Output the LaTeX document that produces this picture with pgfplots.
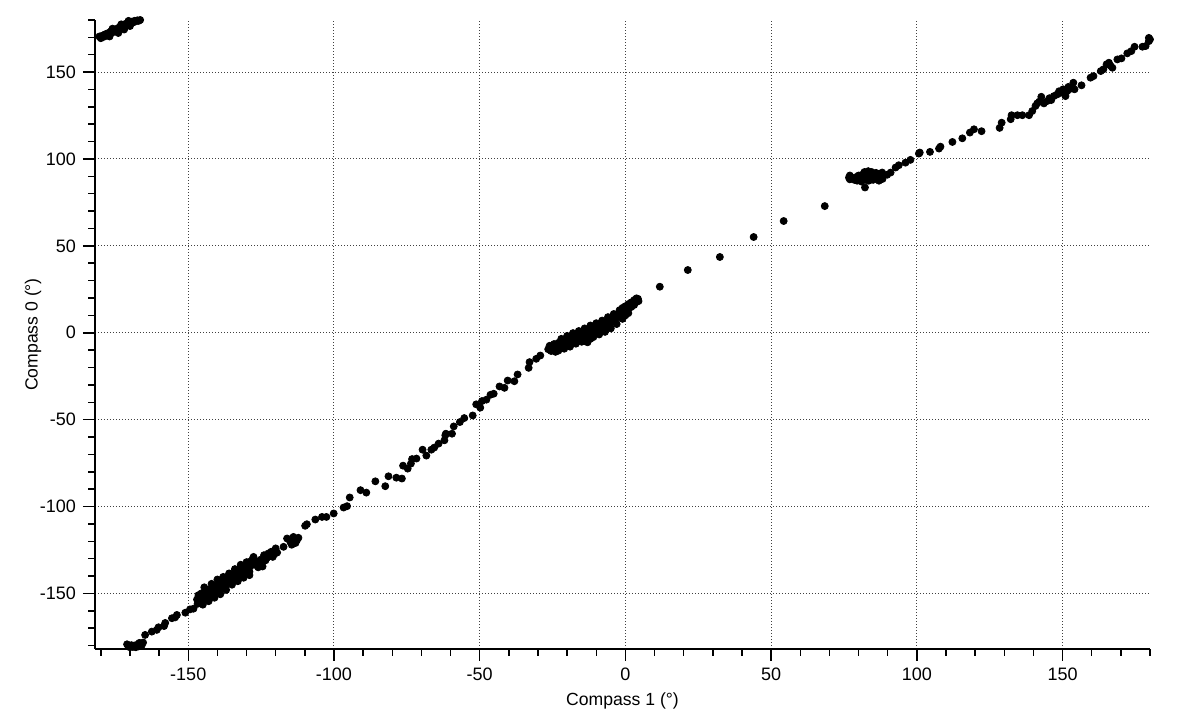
\documentclass[border=0pt]{standalone}
\usepackage{fontspec}
\setmainfont{Liberation Sans}
\usepackage{pgfplots}
\pgfplotsset{compat=1.18}
\begin{document}
\begin{tikzpicture}
\begin{axis}[
  scale only axis,
  width=527.5pt, height=314.5pt,
  xmin=-182, xmax=180, ymin=-182, ymax=180,
  axis lines*=left,
  axis line style={line width=0.75pt, black},
  xtick={-150,-100,...,150}, ytick={-150,-100,...,150},
  minor xtick={-180,-170,...,180}, minor ytick={-180,-170,...,180},
  tick align=outside,
  major tick length=6pt, minor tick length=3.3pt,
  tick style={line width=0.75pt, black},
  grid=major,
  major grid style={black!75, line width=0.5pt, dash pattern=on 0.5pt off 1pt},
  tick label style={font=\fontsize{9}{10}\selectfont},
  label style={font=\fontsize{8.8}{10}\selectfont},
  /pgf/number format/assume math mode=true,
  xlabel={Compass 1 (°)}, ylabel={Compass 0 (°)},
  xlabel style={at={(axis description cs:0.5,-0.082)}, anchor=center},
  ylabel style={at={(axis description cs:-0.0588,0.5)}, anchor=center},
  clip=false,
]
\coordinate (bl) at (rel axis cs:0,0);
\coordinate (tr) at (rel axis cs:1,1);
\addplot[only marks, mark=*, mark size=1.75pt, black] coordinates {
(-180.5,170.5)(-180,169.5)(-179.5,171)(-179,170.3)(-178.5,171.8)(-178,171)(-177.5,172.5)(-177,172)(-176.5,173.5)(-176,172.8)(-175.5,174.5)(-175,173.7)(-174.5,175)(-174,174.2)(-173.5,176)(-173,175.5)(-172.5,177)(-172,176)(-171.5,177.8)(-171,176.8)(-170.5,178.5)(-170,178)(-169.5,179)(-169,178.5)(-168.5,179.5)(-168,179.2)(-167.5,179.8)(-167,179.5)(-166.5,180)
(-177,170.5)(-174,172.5)(-172,174.5)(-170,176.5)(-176,175)(-173,177.5)(-170.5,179.5)
(-171,-179.3)(-170.5,-180.5)(-170,-181)(-169.5,-179.8)(-169,-180.8)(-168.5,-180)(-168,-181)(-167.5,-179.5)(-167,-180.5)(-166.5,-178.8)(-166,-180)(-165.5,-178.3)(-166.8,-178.5)
(-164.8,-173.9)(-162.5,-172)(-160.8,-171)(-160.2,-169.5)(-158.3,-168.8)(-157.9,-167)(-155.6,-164.3)(-154.5,-163.8)(-153.9,-162.4)(-151,-161.1)(-149.4,-159.2)(-148.2,-158.8)
(-147,-153.5)(-146.5,-151)(-146.3,-155)(-146,-152.5)(-145.5,-150)(-145.2,-154)(-145,-151.8)(-144.5,-153)(-144.3,-149.5)(-144,-151)(-143.5,-148)(-143.2,-152.5)(-143,-150)(-142.5,-147.5)(-142.3,-151.5)(-142,-149)(-141.5,-146.5)(-141.3,-150.3)(-141,-148)(-140.5,-145.5)(-140.2,-149)(-140,-147)(-139.5,-144.5)(-139.2,-148)(-139,-142.7)(-138.7,-146)(-138.3,-144)(-138,-146.8)
(-146.8,-156)(-145,-156.5)(-143,-154.5)(-141,-152.5)(-139,-150.5)(-137,-148)(-144.5,-146.5)(-142,-144.5)(-140,-142)(-138,-140.5)(-136,-138.5)
(-137.5,-143)(-137.2,-145.5)(-137,-141.5)(-136.5,-144)(-136.2,-140.5)(-136,-142.5)(-135.5,-139.5)(-135.2,-143)(-135,-141)(-134.5,-138.5)(-134.2,-141.8)(-134,-140)(-133.5,-137.5)(-133.2,-140.5)(-133,-139)(-132.5,-136.5)(-132.2,-139.5)(-132,-135.5)(-131.5,-138)(-131,-136.5)(-130.7,-139)(-130.5,-134.5)(-130,-137)(-129.5,-135.5)(-129.2,-132)(-129,-137.5)(-128.7,-134.5)
(-135,-145)(-133,-143)(-131,-141)(-129,-139.5)(-134,-136)(-132,-133.5)(-130,-132)(-128,-130.5)
(-127.6,-129)(-127.2,-133.5)(-126.4,-131.5)(-126,-135)(-125.5,-133)(-125,-130.5)(-124.5,-134.5)(-124,-128)(-123.5,-131)(-123,-129.5)(-122.5,-127)(-122,-128.5)(-121.5,-126)(-121,-129)(-120.5,-127.5)(-120,-124.1)(-119.5,-126.5)
(-117.3,-123.2)(-116.1,-118.4)(-115,-120.3)(-114.5,-122)(-113.9,-117.5)(-113.2,-121)(-112.7,-119.4)(-112.2,-118)(-109.9,-111.1)(-109.3,-110.2)
(-106.4,-107.5)(-104.1,-106)(-102.6,-106)(-100.1,-104)(-96.7,-100.6)(-95.5,-99.8)(-94.6,-94.8)(-90.9,-90.6)(-88.9,-92)(-85.8,-85.5)(-82.4,-88.3)(-81.3,-82.6)(-78.6,-83.4)(-76.7,-83.9)(-76.3,-76.5)(-74.7,-78.2)(-73.6,-75.3)(-73.2,-72.7)(-71.7,-72.4)(-69.6,-67.3)(-68.3,-70.7)(-66.6,-67.3)(-65.6,-66.1)(-64.1,-63.8)(-62.1,-61.9)(-61.8,-59)(-61.6,-58.1)(-59.5,-58.1)(-58.9,-53.9)(-56.8,-51.4)(-55.3,-49.1)(-52.4,-47.6)(-51.2,-41.2)(-49.8,-43.1)(-49.2,-39.3)(-47.7,-38.5)(-46.3,-35.7)(-45.2,-35.1)(-43.2,-30.9)(-41.5,-31.7)(-40.4,-27.5)(-38.1,-27.9)(-37,-24)
(-33.2,-20.2)(-32.9,-16.9)(-30.6,-15)(-29.2,-13.1)
(-26.5,-9.5)(-26,-7.5)(-25.5,-10.5)(-25,-8)(-24.5,-6.5)(-24,-9.8)(-23.5,-7.5)(-23,-5.8)(-22.5,-8.8)(-22,-6.5)(-21.5,-4.5)(-21,-7.5)(-20.5,-5.5)(-20,-3.8)(-19.5,-6.5)(-19,-4.2)(-18.5,-2.5)(-18,-5.2)(-17.5,-3)(-17,-1.5)(-16.5,-4)(-16,-2)(-15.5,-0.5)(-15,-3)(-14.5,-1)(-14,0.5)(-13.5,-3.5)(-13,-2.2)(-12.8,-4)(-12.5,0.5)(-12,2)(-11.5,-0.8)(-11,1.5)(-10.5,3)(-10,0.5)(-9.5,2.5)(-9,4)(-8.5,1.8)(-8,3.5)(-7.5,5)(-7,3)(-6.5,4.8)(-6,6.5)(-5.5,4.5)(-5,6)(-4.5,8)(-4,6.5)(-3.5,9.5)(-3,8.5)(-2.5,11)(-2,9.8)(-1.5,12.5)(-1,11)(-0.5,13.5)(0,12.5)(0.5,14.5)(1,13.5)(1.5,15.5)(2,14.8)(2.5,16.5)(3,16)(3.5,17.5)(4,18.5)(4.3,19.5)(4.5,18.2)(3.8,19.8)
(-24,-11)(-23,-10.3)(-21,-9.2)(-19,-8)(-17,-6.3)(-15,-5.2)(-14,-4.8)(-13,-5.5)(-12,-3.5)(-11,-2.5)(-9,-1)(-7,0.5)(-5,2.5)(-3,5)(-1,8)(0,10)(1,11.3)
(-22,-3.5)(-20,-1.8)(-18,-0.2)(-16,1)(-14,2.5)(-12,4.2)(-10,5.5)(-8,7)(-6,9)(-4,10.8)(-2,13)(-1,14.3)(0,15.3)(1,16.5)(2,17.5)(3,18.8)
(11.8,26.5)(21.4,36.1)(32.4,43.6)(44,55.1)(54.3,64.3)(68.4,72.9)
(76.7,89.3)(77,90.5)(77,88.3)(78.5,88)(79,89.5)(79.5,87.5)(80,90.5)(80.5,88.5)(81,87)(81.3,91)(81.5,89)(82,92.5)(82.2,83.6)(82.5,88)(83,90)(83.3,93)(83.5,87.5)(84,91)(84.3,89)(84.5,92.5)(85,88)(85.5,90.5)(86,92)(86.5,89)(87,87.5)(87.5,91)(88.1,92.2)(88.2,88.5)(89.8,90.9)
(91,92.2)(92.7,95.1)(93.8,96.4)(96.1,97.9)(97.8,99.5)(100.7,103.1)(101,103.7)(104.5,104.1)(107.6,106)(108.1,107.1)(112.2,109.8)(115.6,111.9)(118.2,115.2)(119.6,117.1)(122.2,116)(128.4,117.9)(129.1,120.9)(132.2,122.9)(132.5,125.2)(134.5,125.2)(136.2,125.2)(138.5,125.2)(139.6,127.6)(140.7,130.5)(141.3,132)(142,133)(142.7,135.8)(143.6,132)(144.8,133.4)(145.5,135)(146.1,133.9)(147,136.2)(148.2,137.2)(148.8,139)(149.3,138.1)(150.2,140.1)(150.5,138.5)(151,136.2)(151.6,139.1)(152,141.5)(152.7,140.4)(153.7,143.9)(154.1,140.1)(156.5,142.4)(159.6,146.8)(160.6,147.7)(163.1,150.6)(164,151.6)(165.1,154.5)(165.9,155.4)(166.5,153.5)(167.1,152.5)(168.8,157.3)(170.2,157.9)(172.2,160.8)(173.6,162.1)(174.7,164.6)(177.4,164.6)(178.5,165)(179.6,169.7)(179.6,167.8)(180,168.8)
};
\end{axis}
\pgfresetboundingbox
\path[use as bounding box] ([shift={(-47.5pt,-31pt)}]bl) rectangle ([shift={(22pt,10pt)}]tr);
\end{tikzpicture}
\end{document}
